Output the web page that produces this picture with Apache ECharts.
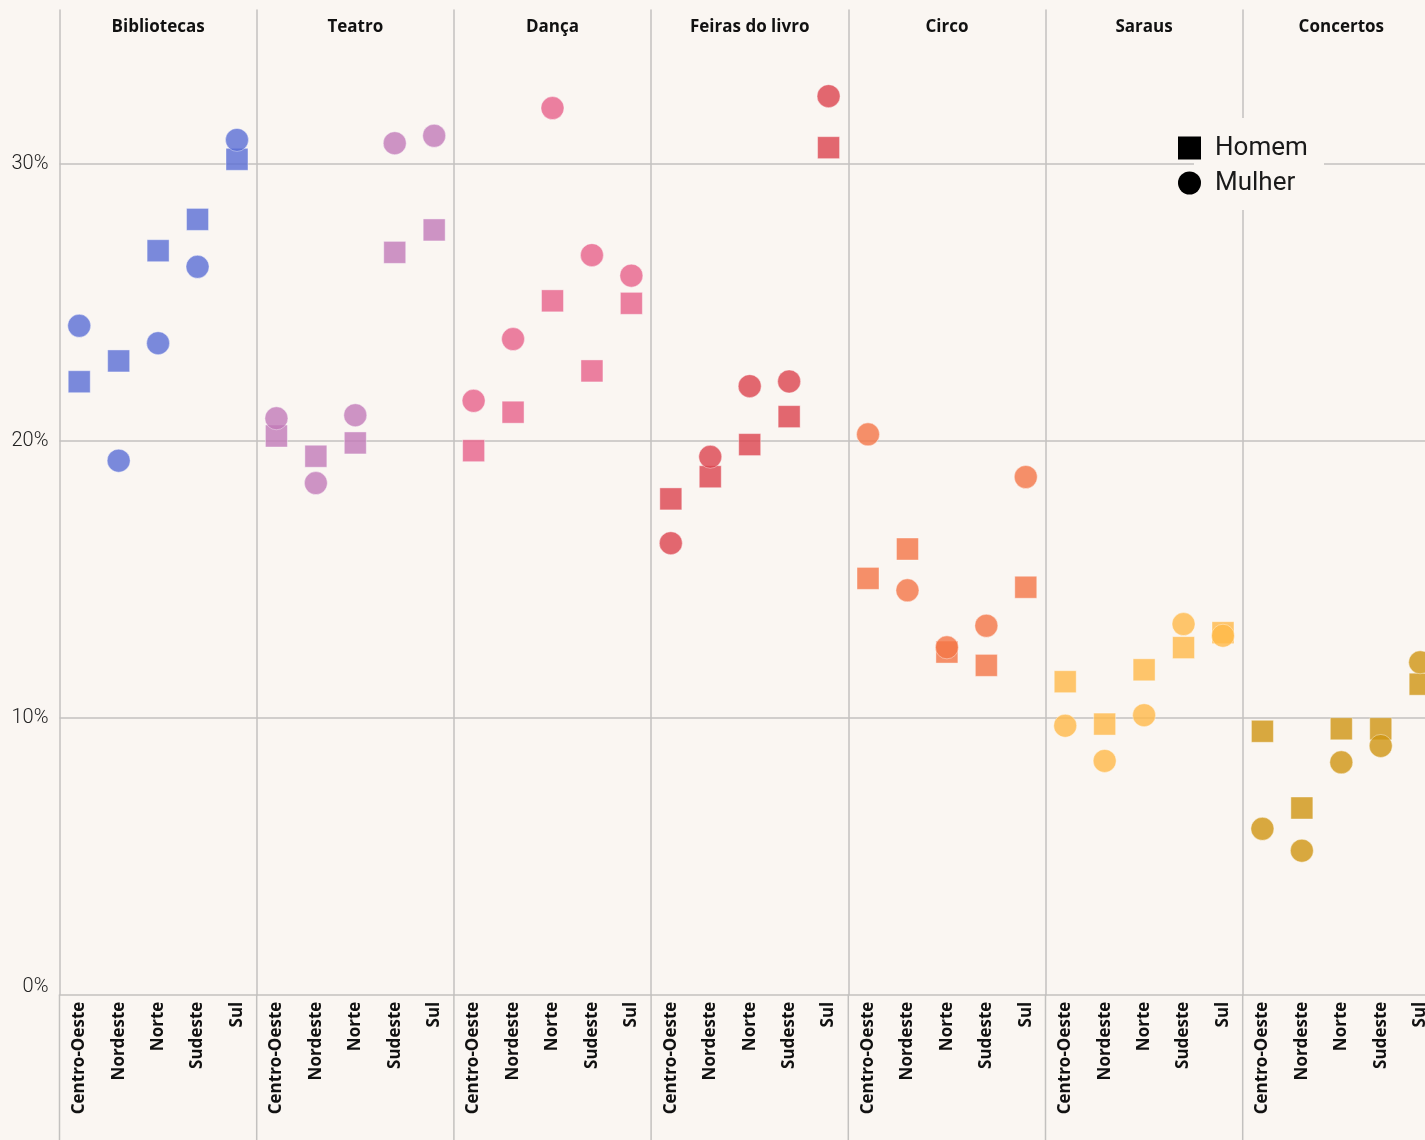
<!DOCTYPE html>
<html>
<head>
<meta charset="utf-8">
<script src="https://cdn.jsdelivr.net/npm/echarts@6/dist/echarts.min.js"></script>
<style>
  html, body { margin: 0; padding: 0; background: #faf6f2; overflow: hidden; }
  #chart { width: 1440px; height: 1140px; }
</style>
</head>
<body>
<div id="chart"></div>
<script>
const regions = ['Centro-Oeste', 'Nordeste', 'Norte', 'Sudeste', 'Sul'];
const activities = ['Bibliotecas', 'Teatro', 'Dança', 'Feiras do livro', 'Circo', 'Saraus', 'Concertos'];
const colors = ['#5a6ed4', '#c27ab8', '#e7618a', '#dc444e', '#f47646', '#ffb948', '#cf9511'];
const yTicks = [0, 10, 20, 30];

// % por região, uma linha por atividade
const homemValues = [
  [22.13, 22.88, 26.86, 27.99, 30.16],
  [20.17, 19.44, 19.92, 26.80, 27.61],
  [19.64, 21.03, 25.05, 22.52, 24.96],
  [17.90, 18.70, 19.86, 20.87, 30.58],
  [15.03, 16.09, 12.37, 11.89, 14.71],
  [11.30, 9.77, 11.73, 12.53, 13.07],
  [9.51, 6.74, 9.60, 9.60, 11.21]
];
const mulherValues = [
  [24.15, 19.28, 23.52, 26.28, 30.86],
  [20.81, 18.47, 20.92, 30.74, 31.01],
  [21.44, 23.67, 32.01, 26.70, 25.96],
  [16.30, 19.42, 21.97, 22.14, 32.44],
  [20.23, 14.60, 12.54, 13.32, 18.69],
  [9.71, 8.44, 10.09, 13.38, 12.96],
  [5.99, 5.20, 8.39, 8.98, 12.00]
];

const bg = '#faf6f2';
const lineColor = '#c3c1bf';
const gridLeft = 59.5;
const panelW = 197.2;
const gridTop = 10;
const axisY = 994.7;
const chartH = 1140;
const yMax = 35.55;

const chart = echarts.init(document.getElementById('chart'));

const grids = [], xAxes = [], yAxes = [], series = [], titles = [], graphics = [];

activities.forEach((act, i) => {
  const left = gridLeft + i * panelW;
  grids.push({ left: left, top: gridTop, width: panelW, height: axisY - gridTop });
  xAxes.push({
    type: 'category',
    gridIndex: i,
    data: regions,
    axisLine: { show: true, lineStyle: { color: lineColor, width: 1.5 } },
    axisTick: { show: false },
    axisLabel: {
      rotate: 90,
      margin: 7,
      color: '#111',
      fontFamily: 'Open Sans',
      fontWeight: 'bold',
      fontSize: 17
    },
    splitLine: { show: false }
  });
  yAxes.push({
    type: 'value',
    gridIndex: i,
    min: 0,
    max: yMax,
    interval: 10,
    axisLine: { show: true, lineStyle: { color: lineColor, width: 1.5 } },
    axisTick: { show: false },
    axisLabel: {
      show: i === 0,
      showMaxLabel: false,
      margin: 11,
      color: '#222',
      fontFamily: 'Roboto',
      fontWeight: 300,
      fontSize: 20,
      formatter: v => (yTicks.indexOf(v) < 0 ? '' : (v === 0 ? '{z|0%}' : v + '%')),
      rich: {
        z: { fontFamily: 'Roboto', fontWeight: 300, fontSize: 20, color: '#222', padding: [0, 0, 16, 0] }
      }
    },
    splitLine: { show: true, showMaxLine: false, showMinLine: false, lineStyle: { color: lineColor, width: 1.5 } }
  });
  titles.push({
    text: act,
    left: left + panelW / 2,
    top: 17,
    padding: 0,
    textAlign: 'center',
    textStyle: { fontFamily: 'Open Sans', fontWeight: 'bold', fontSize: 17, lineHeight: 20, color: '#111' }
  });
  graphics.push({
    type: 'line',
    shape: { x1: left, y1: axisY, x2: left, y2: chartH },
    style: { stroke: lineColor, lineWidth: 1.5 },
    silent: true
  });
  series.push({
    name: 'Homem',
    type: 'scatter',
    xAxisIndex: i,
    yAxisIndex: i,
    symbol: 'rect',
    symbolSize: 22,
    data: homemValues[i],
    itemStyle: { color: colors[i], opacity: 0.8, borderColor: 'rgba(255,255,255,0.5)', borderWidth: 1 }
  });
  series.push({
    name: 'Mulher',
    type: 'scatter',
    xAxisIndex: i,
    yAxisIndex: i,
    symbol: 'circle',
    symbolSize: 23,
    data: mulherValues[i],
    itemStyle: { color: colors[i], opacity: 0.8, borderColor: 'rgba(255,255,255,0.5)', borderWidth: 1 }
  });
});

// fundo da legenda por cima das linhas de grade
graphics.push({
  type: 'rect',
  shape: { x: 1194, y: 118, width: 130, height: 92 },
  style: { fill: bg },
  z: 5,
  silent: true
});

chart.setOption({
  backgroundColor: bg,
  animation: false,
  title: titles,
  grid: grids,
  xAxis: xAxes,
  yAxis: yAxes,
  graphic: { elements: graphics },
  legend: {
    orient: 'vertical',
    left: 1178,
    top: 135,
    padding: 0,
    z: 10,
    itemWidth: 23,
    itemHeight: 23,
    itemGap: 9,
    selectedMode: false,
    textStyle: { fontFamily: 'Roboto', fontSize: 26, lineHeight: 24, color: '#1a1a1a', padding: [0, 0, 0, 9] },
    data: [
      { name: 'Homem', icon: 'rect', itemStyle: { color: '#000', opacity: 1, borderWidth: 0 } },
      { name: 'Mulher', icon: 'circle', itemStyle: { color: '#000', opacity: 1, borderWidth: 0 } }
    ]
  },
  series: series
});
</script>
</body>
</html>
